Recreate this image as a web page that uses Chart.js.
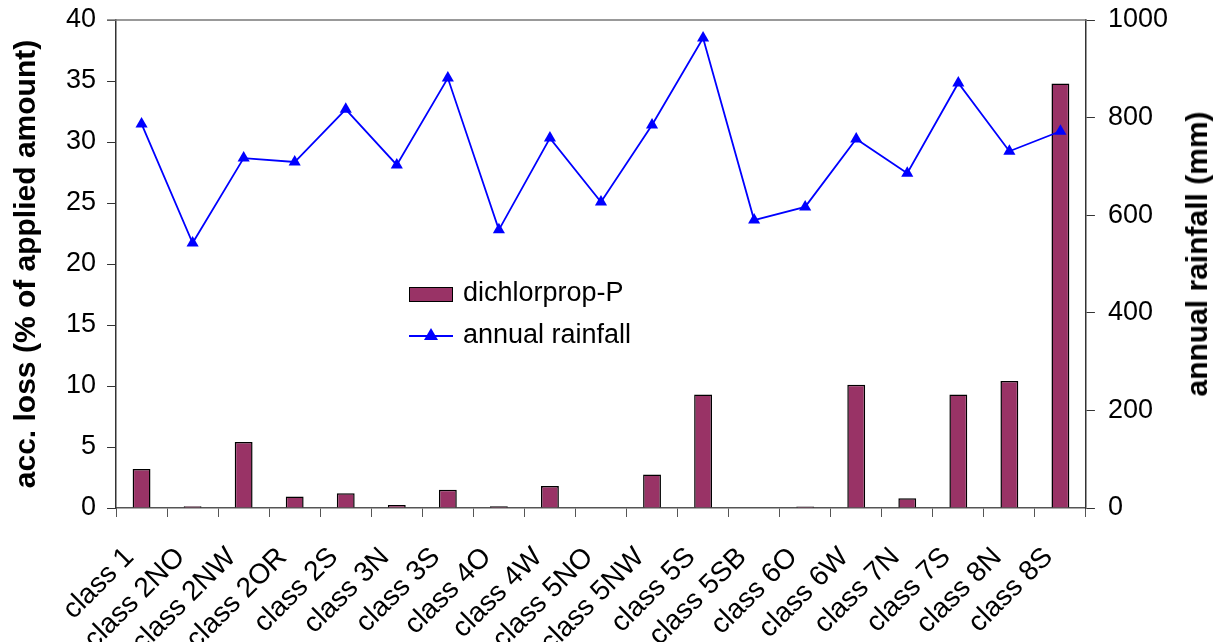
<!DOCTYPE html>
<html>
<head>
<meta charset="utf-8">
<script src="https://cdn.jsdelivr.net/npm/chart.js@4"></script>
<style>
  body { margin: 0; background: #fff; }
  #wrap { position: relative; width: 1219px; height: 642px; }
  .legend { position: absolute; left: 409px; font: 27px "Liberation Sans", Arial, sans-serif; color: #000; }
  .legend span { position: absolute; white-space: nowrap; }
  .rtitle { position: absolute; left: 1197px; top: 254px; transform: translate(-50%, -50%) rotate(-90deg);
    font: bold 30px "Liberation Sans", Arial, sans-serif; white-space: nowrap; color: #000; }
</style>
</head>
<body>
<div id="wrap">
  <canvas id="chart" width="1219" height="642"></canvas>
  <div class="legend" style="top:277px">
    <span style="left:0;top:10px;width:42px;height:13px;background:#993366;border:1px solid #000"></span>
    <span style="left:54px;top:0">dichlorprop-P</span>
  </div>
  <div class="legend" style="top:319px">
    <span style="left:0;top:16px;width:44px;height:2px;background:#0000ff"></span>
    <span style="left:15px;top:9px;width:0;height:0;border-left:7px solid transparent;border-right:7px solid transparent;border-bottom:12px solid #0000ff"></span>
    <span style="left:54px;top:0">annual rainfall</span>
  </div>
  <div class="rtitle">annual rainfall (mm)</div>
</div>
<script>
const categories = ["class 1", "class 2NO", "class 2NW", "class 2OR", "class 2S", "class 3N", "class 3S",
  "class 4O", "class 4W", "class 5NO", "class 5NW", "class 5S", "class 5SB", "class 6O", "class 6W",
  "class 7N", "class 7S", "class 8N", "class 8S"];
const lossValues = [3.2, 0.15, 5.4, 0.95, 1.2, 0.25, 1.5, 0.14, 1.8, 0, 2.75, 9.3, 0, 0.12, 10.1, 0.8, 9.3, 10.4, 34.8];
const rainfallValues = [787, 543, 717, 709, 817, 703, 881, 570, 758, 627, 785, 963, 590, 617, 756, 686, 871, 731, 772];
const lossTicks = [0, 5, 10, 15, 20, 25, 30, 35, 40];
const rainTicks = [0, 200, 400, 600, 800, 1000];

const family = "'Liberation Sans', Arial, sans-serif";
const tickFont = { family: family, size: 27 };

// grey line along the top of the plot area
const topBorder = {
  id: "topBorder",
  afterDraw(chart) {
    const { ctx, chartArea } = chart;
    ctx.save();
    ctx.strokeStyle = "#777";
    ctx.lineWidth = 1.5;
    ctx.beginPath();
    ctx.moveTo(chartArea.left - 9, chartArea.top);
    ctx.lineTo(chartArea.right, chartArea.top);
    ctx.stroke();
    ctx.restore();
  }
};

// keep the plot top at 20px from the canvas edge
const fixTop = (axis) => { axis.paddingTop = 20; axis.paddingBottom = 0; };

new Chart(document.getElementById("chart"), {
  type: "bar",
  data: {
    labels: categories,
    datasets: [
      {
        type: "line",
        label: "annual rainfall",
        data: rainfallValues,
        yAxisID: "y1",
        borderColor: "#0000ff",
        backgroundColor: "#0000ff",
        borderWidth: 1.8,
        pointStyle: "triangle",
        pointRadius: 7,
        pointBorderWidth: 0,
        tension: 0,
        order: 1
      },
      {
        label: "dichlorprop-P",
        data: lossValues,
        yAxisID: "y",
        backgroundColor: "#993366",
        borderColor: "#000",
        borderWidth: 1.5,
        categoryPercentage: 1,
        barPercentage: 0.35,
        order: 2
      }
    ]
  },
  plugins: [topBorder],
  options: {
    responsive: false,
    animation: false,
    layout: { padding: { top: 0, right: 38, left: 2, bottom: 0 } },
    plugins: { legend: { display: false }, tooltip: { enabled: false } },
    scales: {
      x: {
        offset: true,
        afterFit: (axis) => { axis.height = 134; },
        grid: { offset: true, drawOnChartArea: false, tickLength: 9, color: "#555" },
        border: { color: "#555", width: 1.5 },
        ticks: { color: "#000", font: { family: family, size: 28 }, maxRotation: 45, minRotation: 45,
          autoSkip: false, padding: 24, labelOffset: -12 }
      },
      y: {
        position: "left",
        min: 0,
        max: 40,
        afterBuildTicks: (axis) => { axis.ticks = lossTicks.map(v => ({ value: v })); },
        afterFit: fixTop,
        grid: { drawOnChartArea: false, tickLength: 9, color: "#333" },
        border: { color: "#333", width: 1.5 },
        ticks: { color: "#000", font: tickFont, padding: 11 },
        title: { display: true, text: "acc. loss (% of applied amount)", color: "#000",
          font: { family: family, size: 30, weight: "bold" }, padding: { top: 7, bottom: 10 } }
      },
      y1: {
        position: "right",
        min: 0,
        max: 1000,
        afterBuildTicks: (axis) => { axis.ticks = rainTicks.map(v => ({ value: v })); },
        afterFit: fixTop,
        grid: { drawOnChartArea: false, tickLength: 9, color: "#333" },
        border: { color: "#333", width: 1.5 },
        ticks: { color: "#000", font: tickFont, padding: 13, callback: (v) => String(v) }
      }
    }
  }
});
</script>
</body>
</html>
